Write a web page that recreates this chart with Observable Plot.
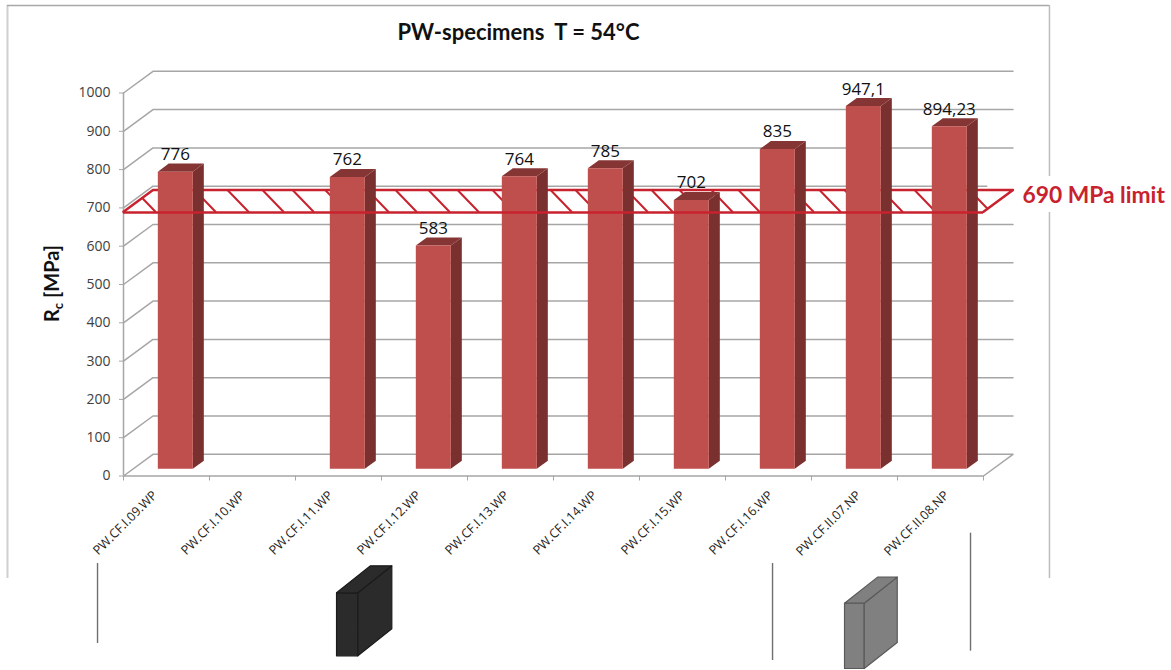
<!DOCTYPE html>
<html>
<head>
<meta charset="utf-8">
<script src="https://cdn.jsdelivr.net/npm/d3@7"></script>
<script src="https://cdn.jsdelivr.net/npm/@observablehq/plot@0.6"></script>
<style>
  html, body { margin: 0; padding: 0; background: #fff; }
</style>
</head>
<body>
<div id="chart"></div>
<script>
// Compressive strength of the PW specimens
const specimens = ["PW.CF.I.09.WP", "PW.CF.I.10.WP", "PW.CF.I.11.WP", "PW.CF.I.12.WP", "PW.CF.I.13.WP",
                   "PW.CF.I.14.WP", "PW.CF.I.15.WP", "PW.CF.I.16.WP", "PW.CF.II.07.NP", "PW.CF.II.08.NP"];
const strength = [776, null, 762, 583, 764, 785, 702, 835, 947.1, 894.23];
const yTicks = [0, 100, 200, 300, 400, 500, 600, 700, 800, 900, 1000];
const limit = 690;
const titleText = "PW-specimens  T = 54°C";
const limitText = "690 MPa limit";
const yLabel = "Rc [MPa]";
// Feet of the diagonal strokes on the limit plane, along the category axis
const hatchFeet = [0.372, 1.07, 1.453, 1.86, 2.21, 2.59, 3.08, 3.407, 3.79, 4.128, 4.535, 5.21, 5.5,
                   6.093, 6.384, 6.71, 7.08, 7.395, 8.023, 8.337, 8.628, 9.058, 9.442, 10.08];

// Oblique projection: depth runs from the front of the floor (0) to the back wall (1)
const depthX = 0.343;
const depthV = 56.7;
const at = (x, v, depth = 0) => ({x: x + depth * depthX, y: v + depth * depthV});

const gray = "#a6a6a6";
const red = "#c8222e";

// The three visible faces of a box, as closed outlines
function box(x, w, base, top, dx, dv, id) {
  return {
    front: [[x, base], [x + w, base], [x + w, top], [x, top]],
    side: [[x + w, base], [x + w + dx, base + dv], [x + w + dx, top + dv], [x + w, top]],
    cap: [[x, top], [x + w, top], [x + w + dx, top + dv], [x + dx, top + dv]]
  };
}
const rows = (faces) => faces.flatMap((pts, id) => pts.map(([x, y]) => ({x, y, id})));
const face = (faces, fill, stroke = "none") =>
  Plot.line(rows(faces), {x: "x", y: "y", z: "id", fill, stroke, strokeWidth: 1.2, curve: "linear-closed"});

// Columns stand a third of the way into the floor
const barDepth = 0.33;
const bars = specimens
  .map((name, i) => ({i, value: strength[i]}))
  .filter((d) => d.value != null)
  .map((d) => ({
    ...d,
    faces: box(d.i + 0.399, 0.407, barDepth * depthV, d.value + barDepth * depthV, 0.128, 20.9)
  }));

// Back-wall grid with its short returns on the side wall
const grid = yTicks.filter((v) => v > 0).flatMap((v) => [
  {...at(0, v), v}, {...at(0, v, 1), v}, {...at(10, v, 1), v}
]);
const floor = [at(0, 0), at(10, 0), at(10, 0, 1), at(0, 0, 1), at(0, 0)];

// Limit plane outline and diagonal strokes clipped to it
const plane = [at(0, limit), at(0, limit, 1), at(10, limit, 1), at(10, limit)];
const hatchLean = 0.244;
const hatches = hatchFeet.map((foot, id) => {
  const nearT = Math.max(0, (foot - 10) / (depthX + hatchLean));
  const farT = Math.min(1, foot / (depthX + hatchLean));
  return [nearT, farT].map((t) => ({x: foot - hatchLean * t, y: limit + t * depthV, id}));
}).flat();

// Small specimen sketches and divider lines under the category labels
const darkBlock = box(2.477, 0.248, -469.5, -305, 0.395, 70.5);
const greyBlock = box(8.384, 0.229, -502.6, -332, 0.384, 67.9);
const dividers = [
  {x: -0.302, y1: -228.5, y2: -437.3},
  {x: 7.547, y1: -228.5, y2: -481.7},
  {x: 9.849, y1: -149.3, y2: -457.4}
];

// Outer chart border, interrupted beside the limit label by the patch below
const borderLeft = -1.349, borderRight = 10.767, borderTop = 1228.5, borderBottom = -267.6;

const plot = Plot.plot({
  width: 1171,
  height: 670,
  marginLeft: 123,
  marginRight: 188,
  marginTop: 92.5,
  marginBottom: 194.5,
  style: {fontFamily: "'Open Sans', sans-serif", background: "#fff", whiteSpace: "pre", overflow: "visible"},
  x: {domain: [0, 10]},
  y: {domain: [0, 1000]},
  marks: [
    // border
    Plot.ruleX([borderLeft], {y1: borderTop, y2: borderBottom, stroke: "#cfcfcf", strokeWidth: 2}),
    Plot.ruleX([borderRight], {y1: borderTop, y2: borderBottom, stroke: "#bdbdbd", strokeWidth: 1.5}),
    Plot.ruleY([borderTop], {x1: borderLeft, x2: borderRight, stroke: "#a8a8a8", strokeWidth: 1.5}),

    // walls and floor
    Plot.line(grid, {x: "x", y: "y", z: "v", stroke: gray, strokeWidth: 1.5, curve: "linear"}),
    Plot.line(floor, {x: "x", y: "y", stroke: gray, strokeWidth: 1.5, curve: "linear"}),
    Plot.ruleX([0], {y1: 0, y2: 1000, stroke: gray, strokeWidth: 1.5}),
    Plot.axisY({ticks: yTicks, tickSize: 4, tickPadding: 9, fontSize: 14, stroke: gray, fill: "#404040", label: null, tickFormat: (d) => String(d)}),
    Plot.axisX({ticks: d3.range(11), tickSize: 5, stroke: gray, tickFormat: () => "", label: null}),

    // clear ground behind the limit label
    Plot.rect([{}], {x1: () => 10.05, x2: () => 12.2, y1: () => 782, y2: () => 688, fill: "#fff"}),

    // limit plane, behind the columns
    Plot.line(plane, {x: "x", y: "y", stroke: red, strokeWidth: 2.5, curve: "linear"}),
    Plot.line(hatches, {x: "x", y: "y", z: "id", stroke: red, strokeWidth: 2, curve: "linear"}),

    // columns
    face(bars.map((d) => d.faces.side), "#7a302e"),
    face(bars.map((d) => d.faces.cap), "#853634"),
    face(bars.map((d) => d.faces.front), "#bf4f4c"),

    // near edge of the limit plane crosses in front of the columns
    Plot.ruleY([limit], {x1: 0, x2: 10, stroke: red, strokeWidth: 2.5, dy: 0.8}),

    // values above the columns
    Plot.text(bars, {
      x: (d) => d.i + 0.399 + 0.2035,
      y: (d) => d.value + barDepth * depthV,
      text: (d) => String(d.value).replace(".", ","),
      dy: -17, fontSize: 17, fill: "#111"
    }),

    // slanted specimen names
    Plot.text(specimens, {
      x: (d, i) => 0.365 + i * 1.023,
      y: () => -45,
      text: (d) => d,
      rotate: -45, textAnchor: "end", fontSize: 12.6, fill: "#222"
    }),

    // title and axis caption
    Plot.text([titleText], {x: () => 4.593, y: () => 1158, text: (d) => d, fontSize: 22, fontWeight: "bold", fontFamily: "Lato", fill: "#111"}),
    Plot.text([yLabel], {x: () => -0.826, y: () => 502.6, text: (d) => d, rotate: -90, fontSize: 20, fontWeight: "bold", fontFamily: "Lato", fill: "#111"}),
    Plot.text([limitText], {x: () => 10.453, y: () => 732, text: (d) => d, textAnchor: "start", fontSize: 22.8, fontWeight: "bold", fontFamily: "Lato", fill: red}),

    // specimen sketches and dividers
    Plot.ruleX(dividers, {x: "x", y1: "y1", y2: "y2", stroke: "#6f6f6f", strokeWidth: 1.4}),
    face([darkBlock.front, darkBlock.side, darkBlock.cap], "#2b2b2b", "#1b1b1b"),
    face([greyBlock.front, greyBlock.side, greyBlock.cap], "#808080", "#595959")
  ]
});

// Subscript on the quantity symbol in the axis caption
d3.select(plot).selectAll("text")
  .filter(function () { return this.textContent === yLabel; })
  .html('R<tspan dy="4" font-size="13">c</tspan><tspan dy="-4"> [MPa]</tspan>');

document.getElementById("chart").append(plot);
</script>
</body>
</html>
